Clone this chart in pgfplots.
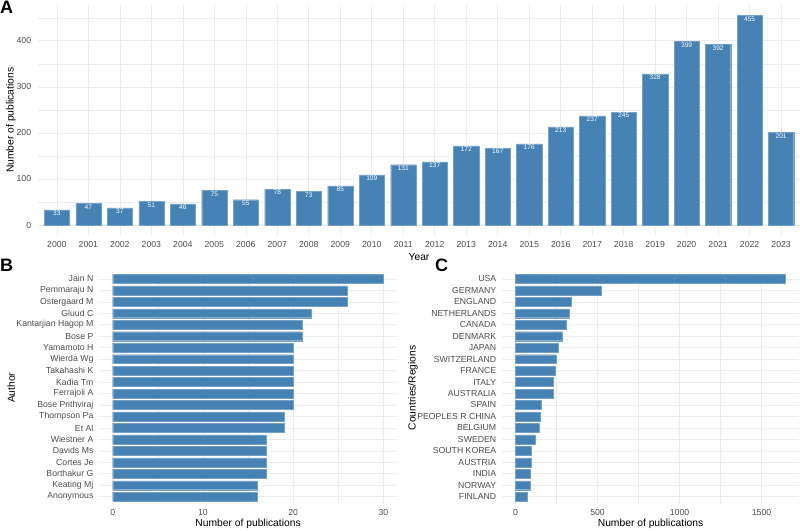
\documentclass[border=0pt]{standalone}
\usepackage{fontspec}
\setmainfont{Liberation Sans}
\usepackage{pgfplots}
\pgfplotsset{compat=1.18}
\definecolor{barc}{HTML}{4682B4}
\definecolor{gridc}{HTML}{EBEBEB}
\definecolor{tickc}{HTML}{4D4D4D}
\pgfplotsset{
  base/.style={
    scale only axis,
    anchor=south west,
    axis line style={draw=none},
    major tick length=0pt, minor tick length=0pt,
    /pgf/number format/assume math mode=true,
    /pgf/number format/1000 sep={},
    scaled ticks=false,
    ticklabel style={font=\fontsize{8.7}{10}\selectfont, text=tickc},
    label style={font=\fontsize{10.3}{12}\selectfont},
    major grid style={draw=gridc, line width=0.6pt},
    minor grid style={draw=gridc, line width=0.35pt},
  }
}
\begin{document}
\begin{tikzpicture}
\path[use as bounding box] (0pt,0pt) rectangle (800pt,530pt);

% Panel A
\begin{axis}[base, ybar, bar width=0.8,
  at={(38pt,294.5pt)}, width=762pt, height=230.5pt,
  xmin=-0.6, xmax=23.6, ymin=-22.75, ymax=477.75,
  xtick={0,...,23},
  xticklabels={2000,2001,2002,2003,2004,2005,2006,2007,2008,2009,2010,2011,2012,2013,2014,2015,2016,2017,2018,2019,2020,2021,2022,2023},
  ytick={0,100,200,300,400}, minor ytick={50,150,250,350,450},
  xmajorgrids, ymajorgrids, yminorgrids,
  xticklabel style={yshift=-2.5pt},
  yticklabel style={xshift=-3.3pt},
  xlabel={Year}, ylabel={Number of publications},
  xlabel style={at={(axis description cs:0.5,-0.0933)}, anchor=center},
  ylabel style={at={(axis description cs:-0.0354,0.5)}, anchor=center},
  nodes near coords,
  every node near coord/.append style={anchor=north, inner sep=1pt, text=white, font=\fontsize{6.6}{7}\selectfont},
]
\addplot[fill=barc, draw=barc!75!white, line width=0.3pt] coordinates {
(0,33) (1,47) (2,37) (3,51) (4,46) (5,75) (6,55) (7,78) (8,73) (9,85)
(10,109) (11,131) (12,137) (13,172) (14,167) (15,176) (16,213) (17,237)
(18,245) (19,328) (20,399) (21,392) (22,455) (23,201)};
\end{axis}

% Panel B
\begin{axis}[base, xbar, bar width=0.78,
  at={(99.2pt,26.4pt)}, width=297.7pt, height=231.6pt,
  xmin=-1.5, xmax=31.5, ymin=0.4, ymax=20.6,
  ytick={1,...,20},
  yticklabels={Anonymous,Keating Mj,Borthakur G,Cortes Je,Davids Ms,Wiestner A,Et Al,Thompson Pa,Bose Prithviraj,Ferrajoli A,Kadia Tm,Takahashi K,Wierda Wg,Yamamoto H,Bose P,Kantarjian Hagop M,Gluud C,Ostergaard M,Pemmaraju N,Jain N},
  xtick={0,10,20,30}, minor xtick={5,15,25},
  xmajorgrids, xminorgrids, ymajorgrids,
  xticklabel style={yshift=-2.5pt},
  yticklabel style={xshift=-2.3pt},
  xlabel={Number of publications}, ylabel={Author},
  xlabel style={at={(axis description cs:0.5,-0.0881)}, anchor=center},
  ylabel style={at={(axis description cs:-0.2956,0.5)}, anchor=center},
]
\addplot[fill=barc, draw=barc!75!white, line width=0.3pt] coordinates {
(16,1) (16,2) (17,3) (17,4) (17,5) (17,6) (19,7) (19,8) (20,9) (20,10)
(20,11) (20,12) (20,13) (20,14) (21,15) (21,16) (22,17) (26,18) (26,19) (30,20)};
\end{axis}

% Panel C
\begin{axis}[base, xbar, bar width=0.78,
  at={(502pt,26.4pt)}, width=297pt, height=231.6pt,
  xmin=-82.3, xmax=1728.3, ymin=0.4, ymax=20.6,
  ytick={1,...,20},
  yticklabels={FINLAND,NORWAY,INDIA,AUSTRIA,SOUTH KOREA,SWEDEN,BELGIUM,PEOPLES R CHINA,SPAIN,AUSTRALIA,ITALY,FRANCE,SWITZERLAND,JAPAN,DENMARK,CANADA,NETHERLANDS,ENGLAND,GERMANY,USA},
  xtick={0,500,1000,1500}, minor xtick={250,750,1250},
  xmajorgrids, xminorgrids, ymajorgrids,
  xticklabel style={yshift=-2.5pt},
  yticklabel style={xshift=-2.3pt},
  xlabel={Number of publications}, ylabel={Countries/Regions},
  xlabel style={at={(axis description cs:0.5,-0.0881)}, anchor=center},
  ylabel style={at={(axis description cs:-0.2997,0.5)}, anchor=center},
]
\addplot[fill=barc, draw=barc!75!white, line width=0.3pt] coordinates {
(69,1) (87,2) (91,3) (95,4) (95,5) (118,6) (142,7) (152,8) (156,9) (229,10)
(230,11) (242,12) (246,13) (260,14) (287,15) (307,16) (325,17) (341,18) (524,19) (1646,20)};
\end{axis}

\node[anchor=base west, inner sep=0pt, font=\fontsize{18}{20}\selectfont\bfseries] at (0pt,516pt) {A};
\node[anchor=base west, inner sep=0pt, font=\fontsize{18}{20}\selectfont\bfseries] at (0pt,258pt) {B};
\node[anchor=base west, inner sep=0pt, font=\fontsize{18}{20}\selectfont\bfseries] at (435pt,258pt) {C};
\end{tikzpicture}
\end{document}
